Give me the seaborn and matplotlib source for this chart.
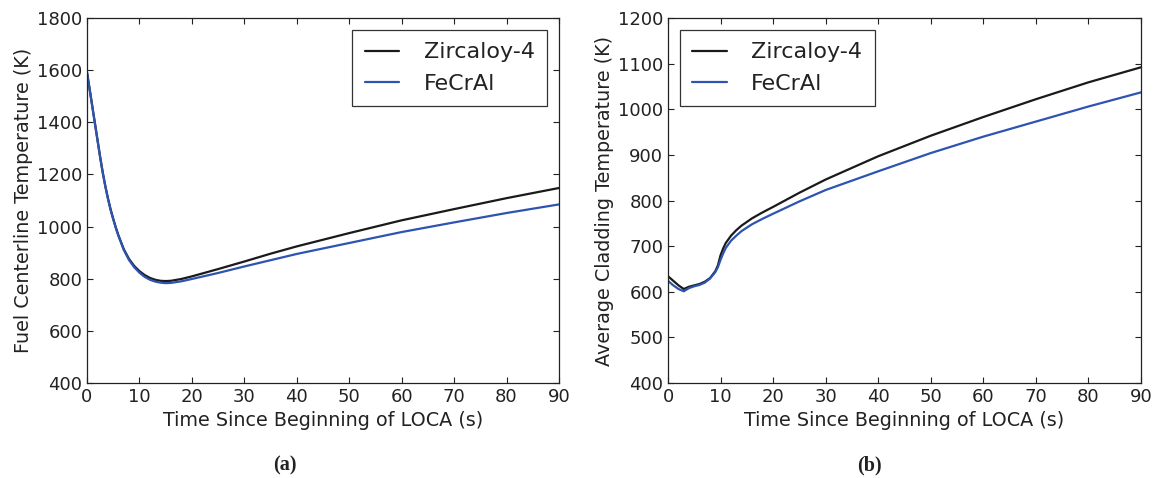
import numpy as np
import pandas as pd
import matplotlib
matplotlib.use("Agg")
import matplotlib.pyplot as plt
from matplotlib.lines import Line2D
import seaborn as sns

# ---------------- data ----------------
materials = ["Zircaloy-4", "FeCrAl"]

# (a) Fuel centerline temperature
time_a = [0, 0.5, 1, 1.5, 2, 2.5, 3, 3.5, 4, 4.5, 5, 5.5, 6, 7, 8, 9, 10, 11, 12, 13,
          14, 15, 16, 18, 20, 25, 30, 35, 40, 50, 60, 70, 80, 90]
fuel_zr = [1592, 1528, 1463, 1398, 1333, 1268, 1208, 1155, 1108, 1066, 1030, 996, 966,
           914, 876, 849, 829, 814, 803, 796, 792, 791, 792, 799, 809, 837, 866, 896,
           924, 975, 1024, 1067, 1109, 1148]
fuel_fe = [1590, 1526, 1461, 1396, 1331, 1266, 1206, 1153, 1106, 1064, 1028, 994, 964,
           911, 872, 844, 823, 807, 796, 789, 785, 783, 784, 790, 799, 822, 847, 871,
           895, 937, 979, 1016, 1052, 1085]

# (b) Average cladding temperature
time_b = [0, 1, 2, 3, 4, 5, 6, 7, 8, 9, 9.5, 10, 10.5, 11, 12, 13, 14, 16, 18,
          20, 25, 30, 40, 50, 60, 70, 80, 90]
clad_zr = [634, 624, 614, 606, 611, 614, 617, 622, 630, 645, 658, 680, 695, 707, 723, 735,
           745, 761, 774, 786, 817, 846, 897, 942, 983, 1022, 1059, 1092]
clad_fe = [624, 614, 606, 601, 608, 612, 615, 620, 629, 643, 654, 670, 684, 696, 712, 723,
           733, 748, 760, 771, 798, 823, 864, 904, 940, 973, 1006, 1037]

xticks = list(range(0, 91, 10))
yticks_a = list(range(400, 1801, 200))
yticks_b = list(range(400, 1201, 100))
xlabel = "Time Since Beginning of LOCA (s)"
ylabel_a = "Fuel Centerline Temperature (K)"
ylabel_b = "Average Cladding Temperature (K)"
captions = ["(a)", "(b)"]

# ---------------- style ----------------
sns.set_style("white", {
    "xtick.direction": "in", "ytick.direction": "in",
    "xtick.top": True, "ytick.right": True,
    "xtick.bottom": True, "ytick.left": True,
    "axes.edgecolor": "#222222",
})
plt.rcParams["font.family"] = ["DejaVu Sans"]
plt.rcParams.update({
    "xtick.major.size": 4.5, "ytick.major.size": 4.5,
    "xtick.major.width": 0.8, "ytick.major.width": 0.8,
    "axes.linewidth": 0.9,
    "xtick.color": "#222222", "ytick.color": "#222222",
    "text.color": "#222222", "axes.labelcolor": "#222222",
})

colors = {"Zircaloy-4": "#1a1a1a", "FeCrAl": "#2d54b0"}

def make_df(t, zr, fe):
    return pd.DataFrame({
        "t": list(t) + list(t),
        "T": list(zr) + list(fe),
        "material": [materials[0]] * len(t) + [materials[1]] * len(t),
    })

df_a = make_df(time_a, fuel_zr, fuel_fe)
df_b = make_df(time_b, clad_zr, clad_fe)

fig = plt.figure(figsize=(11.58, 4.78), dpi=100)
ax_a = fig.add_axes([87 / 1158, 1 - 383 / 478, (559 - 87) / 1158, (383 - 18) / 478])
ax_b = fig.add_axes([668 / 1158, 1 - 383 / 478, (1141 - 668) / 1158, (383 - 18) / 478])

for ax, df, yt, ylab, loc in [(ax_a, df_a, yticks_a, ylabel_a, "upper right"),
                              (ax_b, df_b, yticks_b, ylabel_b, "upper left")]:
    sns.lineplot(data=df, x="t", y="T", hue="material", hue_order=materials,
                 palette=colors, estimator=None, sort=True, linewidth=1.6,
                 legend=False, ax=ax)
    ax.set_xlim(0, 90)
    ax.set_ylim(yt[0], yt[-1])
    ax.set_xticks(xticks)
    ax.set_yticks(yt)
    ax.tick_params(labelsize=13, pad=3.5)
    ax.set_xlabel(xlabel, fontsize=13.8, labelpad=3.5)
    ax.set_ylabel(ylab, fontsize=13.8, labelpad=3)
    handles = [Line2D([], [], color=colors[m], linewidth=1.6) for m in materials]
    leg = ax.legend(handles, materials, loc=loc, fontsize=16, frameon=True,
                    fancybox=False, framealpha=1, edgecolor="#333333",
                    handlelength=1.55, handletextpad=1.1, borderpad=0.55,
                    labelspacing=0.5, borderaxespad=0.55)
    leg.get_frame().set_linewidth(0.9)

fig.text(285 / 1158, 1 - 465 / 478, captions[0], ha="center", va="center",
         fontsize=14.5, fontweight="bold", family="Liberation Serif")
fig.text(869 / 1158, 1 - 465 / 478, captions[1], ha="center", va="center",
         fontsize=14.5, fontweight="bold", family="Liberation Serif")

fig.savefig("out.png", dpi=100)
